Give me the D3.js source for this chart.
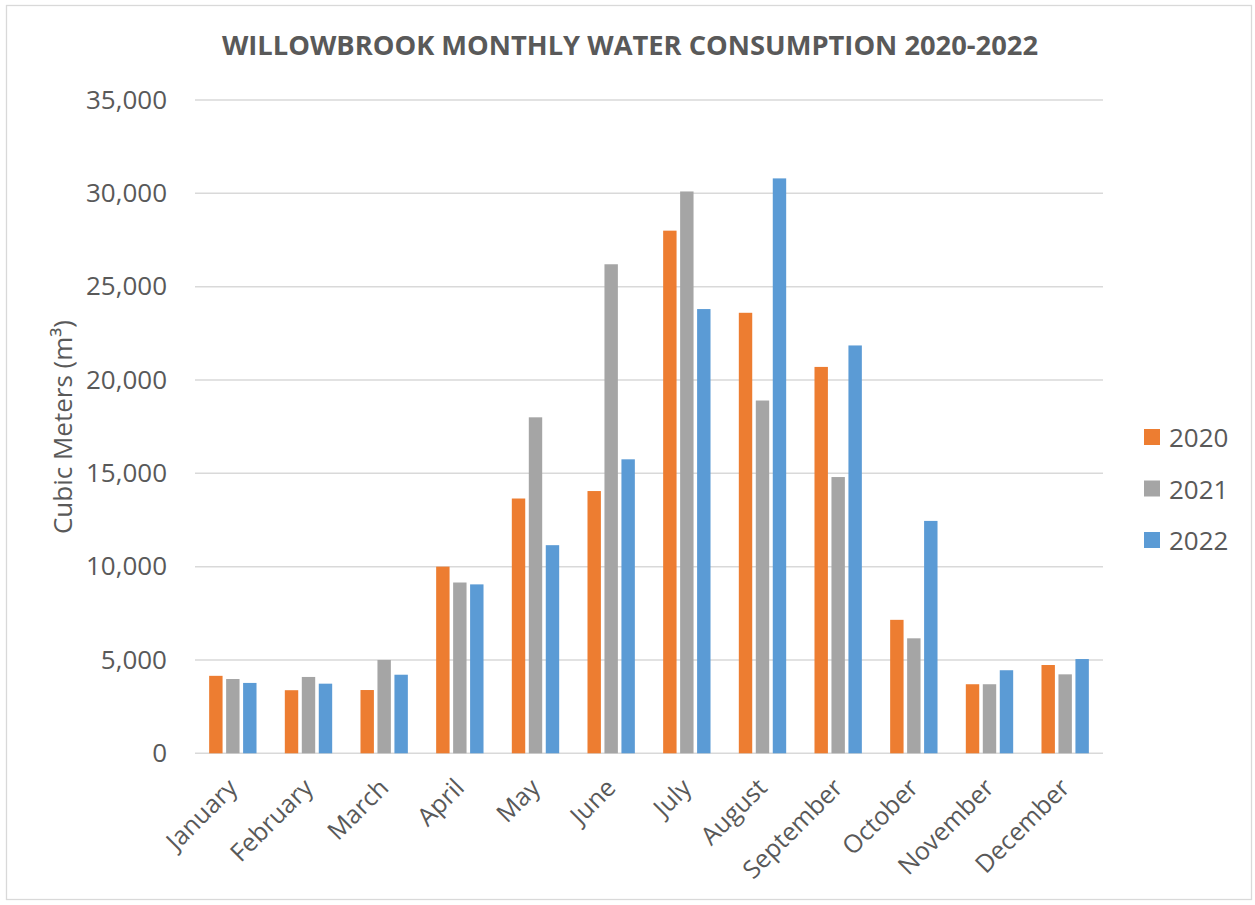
<!DOCTYPE html>
<html>
<head>
<meta charset="utf-8">
<script src="https://cdn.jsdelivr.net/npm/d3@7"></script>
<style>
  body { margin: 0; background: #fff; }
  text { font-family: "Open Sans", sans-serif; fill: #595959; }
</style>
</head>
<body>
<div class="canvas"></div>
<script>
// chart data
const months = ['January','February','March','April','May','June','July','August','September','October','November','December']
const years = ['2020','2021','2022']
const values2020 = [4150, 3380, 3390, 10000, 13650, 14050, 28000, 23600, 20700, 7150, 3700, 4730]
const values2021 = [3980, 4090, 5000, 9150, 18000, 26200, 30100, 18900, 14800, 6160, 3700, 4230]
const values2022 = [3770, 3730, 4210, 9050, 11150, 15750, 23800, 30800, 21850, 12450, 4450, 5050]
const yTicks = [0, 5000, 10000, 15000, 20000, 25000, 30000, 35000]
const colors = ['#ED7D31', '#A5A5A5', '#5B9BD5']

const series = [values2020, values2021, values2022]

const svg = d3.select('.canvas').append('svg')
    .attr('width', 1255)
    .attr('height', 905)

// outer chart border
svg.append('rect')
    .attr('x', 6.5).attr('y', 5.5)
    .attr('width', 1245).attr('height', 894)
    .attr('fill', '#fff')
    .attr('stroke', '#d9d9d9')
    .attr('stroke-width', 1.3)

const plotLeft = 195, plotRight = 1103, plotTop = 100, plotBottom = 753.3

const y = d3.scaleLinear().domain([0, 35000]).range([plotBottom, plotTop])

const x0 = d3.scaleBand().domain(months).range([plotLeft, plotRight])
    .paddingInner(0.327).paddingOuter(0.1635)

const x1 = d3.scaleBand().domain(years).range([0, x0.bandwidth()])
    .paddingInner(0.21).paddingOuter(0.105)

// gridlines
svg.append('g').selectAll('line')
    .data(yTicks)
    .enter().append('line')
    .attr('x1', plotLeft).attr('x2', plotRight)
    .attr('y1', d => y(d)).attr('y2', d => y(d))
    .attr('stroke', '#d9d9d9')
    .attr('stroke-width', 1.5)

// y axis labels
const yAxis = d3.axisLeft(y).tickValues(yTicks).tickSize(0).tickPadding(0)
    .tickFormat(d3.format(','))
const yg = svg.append('g')
    .attr('transform', `translate(${plotLeft - 28},0)`)
    .call(yAxis)
yg.select('.domain').remove()
yg.selectAll('text')
    .style('font-size', '26px')
    .style('font-family', '"Open Sans", sans-serif')
    .attr('fill', '#595959')

// bars
const groups = svg.append('g').selectAll('g')
    .data(months)
    .enter().append('g')
    .attr('transform', d => `translate(${x0(d)},0)`)

groups.selectAll('rect')
    .data((m, i) => years.map((yr, k) => ({ yr, v: series[k][i], c: colors[k] })))
    .enter().append('rect')
    .attr('x', d => x1(d.yr))
    .attr('y', d => y(d.v))
    .attr('width', x1.bandwidth())
    .attr('height', d => plotBottom - y(d.v))
    .attr('fill', d => d.c)

// x axis labels
const xAxis = d3.axisBottom(x0).tickSize(0).tickPadding(0)
const xg = svg.append('g')
    .attr('transform', `translate(0,${plotBottom})`)
    .call(xAxis)
xg.select('.domain').remove()
xg.selectAll('text')
    .style('font-size', '25px')
    .style('font-family', '"Open Sans", sans-serif')
    .attr('fill', '#595959')
    .attr('text-anchor', 'end')
    .attr('dy', null)
    .attr('transform', 'translate(6,36) rotate(-45)')

// title
svg.append('text')
    .attr('x', 630)
    .attr('y', 55)
    .attr('text-anchor', 'middle')
    .style('font-size', '27.3px')
    .style('font-weight', 'bold')
    .text('WILLOWBROOK MONTHLY WATER CONSUMPTION 2020-2022')

// y axis title
svg.append('text')
    .attr('transform', 'translate(72,427) rotate(-90)')
    .attr('text-anchor', 'middle')
    .style('font-size', '26px')
    .text('Cubic Meters (m³)')

// legend
const legend = svg.append('g').selectAll('g')
    .data(years)
    .enter().append('g')
    .attr('transform', (d, i) => `translate(1144,${437 + i * 51.5})`)

legend.append('rect')
    .attr('x', 0).attr('y', -8)
    .attr('width', 16).attr('height', 16)
    .attr('fill', (d, i) => colors[i])

legend.append('text')
    .attr('x', 25)
    .attr('y', 10)
    .style('font-size', '26px')
    .text(d => d)
</script>
</body>
</html>
